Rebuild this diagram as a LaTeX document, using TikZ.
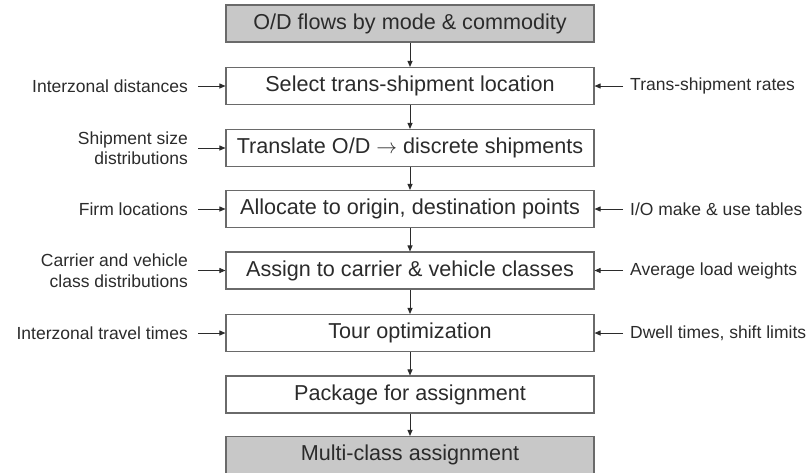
\documentclass[tikz,border=0pt]{standalone}
\usepackage{fontspec}
\setmainfont{Liberation Sans}
\usetikzlibrary{arrows.meta}
\definecolor{txt}{HTML}{2B2B2B}
\definecolor{edge}{HTML}{6A6A6A}
\definecolor{fillg}{HTML}{C8C8C8}
\begin{document}
\begin{tikzpicture}[x=1pt,y=1pt,
  box/.style={draw=edge, line width=1.1pt, minimum width=368pt, minimum height=37pt, inner sep=0pt, text=txt, font=\fontsize{21.6}{24}\selectfont},
  gbox/.style={box, fill=fillg},
  llab/.style={anchor=east, inner sep=0pt, align=right, text=txt, font=\fontsize{17.5}{20.5}\selectfont},
  rlab/.style={anchor=west, inner sep=0pt, align=left, text=txt, font=\fontsize{17.5}{20.5}\selectfont},
  arr/.style={draw=txt, line width=0.9pt, -{Triangle[length=6pt,width=5pt]}}
]
\useasboundingbox (0,0) rectangle (810,-472);
\node[gbox] (b1) at (410,-23.5) {O/D flows by mode \& commodity};
\node[box] (b2) at (410,-86) {Select trans-shipment location};
\node[box] (b3) at (410,-148) {Translate O/D $\rightarrow$ discrete shipments};
\node[box] (b4) at (410,-209) {Allocate to origin, destination points};
\node[box] (b5) at (410,-270.5) {Assign to carrier \& vehicle classes};
\node[box] (b6) at (410,-333) {Tour optimization};
\node[box] (b7) at (410,-394.5) {Package for assignment};
\node[gbox] (b8) at (410,-455) {Multi-class assignment};
\foreach \a/\b in {b1/b2,b2/b3,b3/b4,b4/b5,b5/b6,b6/b7,b7/b8}
  \draw[arr] (\a) -- (\b);
% left labels
\node[llab] (l2) at (188,-86) {Interzonal distances};
\node[llab] (l3) at (188,-148) {Shipment size\\distributions};
\node[llab] (l4) at (188,-209) {Firm locations};
\node[llab] (l5) at (188,-270.5) {Carrier and vehicle\\class distributions};
\node[llab] (l6) at (188,-333) {Interzonal travel times};
% right labels
\node[rlab] (r2) at (630,-86) {Trans-shipment rates};
\node[rlab] (r4) at (630,-209) {I/O make \& use tables};
\node[rlab] (r5) at (630,-270.5) {Average load weights};
\node[rlab] (r6) at (630,-333) {Dwell times, shift limits};
\foreach \l/\b in {l2/b2,l3/b3,l4/b4,l5/b5,l6/b6}
  \draw[arr, shorten <=10pt] (\l.east) -- (\l.east -| \b.west);
\foreach \r/\b in {r2/b2,r4/b4,r5/b5,r6/b6}
  \draw[arr, shorten <=7pt] (\r.west) -- (\r.west -| \b.east);
\end{tikzpicture}
\end{document}
